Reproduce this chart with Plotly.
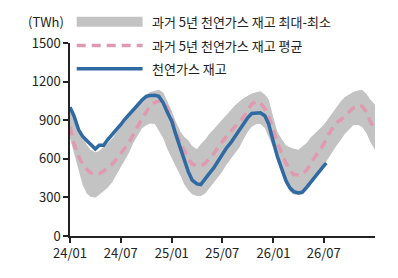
import pandas as pd
import plotly.graph_objects as go

# semi-monthly date grid (1st and 15th), Jan 2024 - Jan 2027
dates = [d.strftime("%Y-%m-%d") for d in pd.date_range("2024-01-01", "2027-01-01", freq="SMS")]

band_max = [980, 920, 830, 770, 710, 670, 650, 660, 690, 720, 760, 805,
            850, 890, 930, 975, 1020, 1060, 1095, 1120, 1130, 1137, 1115, 1050,
            970, 890, 810, 770, 745, 700, 675, 715, 750, 790, 830, 865,
            900, 940, 980, 1015, 1045, 1070, 1090, 1108, 1118, 1125, 1100, 1060,
            920, 810, 750, 705, 690, 678, 670, 695, 725, 765, 800, 835,
            865, 905, 955, 1000, 1050, 1080, 1100, 1120, 1130, 1137, 1105, 1060,
            1020]
band_min = [760, 650, 520, 400, 330, 305, 300, 320, 350, 375, 420, 475,
            530, 585, 650, 720, 780, 835, 860, 875, 870, 820, 760, 680,
            600, 540, 470, 400, 355, 325, 310, 310, 330, 370, 410, 450,
            500, 550, 600, 640, 690, 750, 810, 850, 870, 870, 840, 770,
            680, 580, 480, 400, 345, 322, 318, 322, 360, 400, 445, 495,
            550, 595, 650, 700, 750, 795, 830, 860, 862, 850, 800, 730,
            670]
avg5 = [850, 720, 620, 560, 520, 490, 478, 485, 505, 530, 560, 595,
        635, 680, 730, 790, 850, 910, 965, 1010, 1040, 1048, 1045, 1000,
        910, 805, 725, 655, 600, 560, 545, 545, 565, 600, 640, 690,
        730, 770, 815, 850, 880, 930, 985, 1025, 1046, 1035, 990, 925,
        830, 720, 640, 565, 510, 478, 476, 480, 515, 568, 620, 665,
        715, 780, 835, 880, 905, 935, 960, 995, 1015, 1010, 965, 890,
        820]
stock = [1000, 935, 825, 775, 743, 710, 676, 705, 705, 748, 787, 825,
         865, 905, 943, 982, 1020, 1055, 1085, 1092, 1093, 1085, 1035, 965,
         890, 790, 685, 593, 500, 435, 405, 400, 440, 485, 530, 580,
         630, 680, 725, 770, 820, 870, 920, 952, 958, 958, 935, 870,
         730, 620, 515, 430, 375, 345, 335, 340, 380, 420, 470, 500,
         545, 567]
stock_dates = dates[:61] + ["2026-07-10"]

tick_vals = ["2024-01-01", "2024-07-01", "2025-01-01", "2025-07-01", "2026-01-01", "2026-07-01"]
tick_text = ["24/01", "24/07", "25/01", "25/07", "26/01", "26/07"]
y_ticks = [0, 300, 600, 900, 1200, 1500]

names = ["과거 5년 천연가스 재고 최대-최소", "과거 5년 천연가스 재고 평균", "천연가스 재고"]
GRAY = "#c3c3c3"
PINK = "#e09ab0"
BLUE = "#2f6aa3"
FONT = "Noto Sans CJK KR"
TXT = "#222222"

fig = go.Figure()
fig.add_trace(go.Scatter(x=dates, y=band_min, mode="lines", line=dict(width=0, color=GRAY),
                         showlegend=False, hoverinfo="skip"))
fig.add_trace(go.Scatter(x=dates, y=band_max, mode="lines", line=dict(width=0, color=GRAY),
                         fill="tonexty", fillcolor=GRAY, name=names[0], showlegend=False))
fig.add_trace(go.Scatter(x=dates, y=avg5, mode="lines", line=dict(color=PINK, width=3.5, dash="9px,6px"),
                         name=names[1], showlegend=False))
fig.add_trace(go.Scatter(x=stock_dates, y=stock, mode="lines", line=dict(color=BLUE, width=3.5),
                         name=names[2], showlegend=False))

# manual legend (paper coordinates)
leg_y = [1.110, 0.987, 0.866]
x0, x1, xt = 0.022, 0.238, 0.262
fig.add_shape(type="line", xref="paper", yref="paper", x0=x0, x1=x1, y0=leg_y[0], y1=leg_y[0],
              line=dict(color=GRAY, width=10))
fig.add_shape(type="line", xref="paper", yref="paper", x0=x0, x1=x1, y0=leg_y[1], y1=leg_y[1],
              line=dict(color=PINK, width=3.5, dash="9px,6px"))
fig.add_shape(type="line", xref="paper", yref="paper", x0=x0, x1=x1, y0=leg_y[2], y1=leg_y[2],
              line=dict(color=BLUE, width=3.5))
for nm, yy in zip(names, leg_y):
    fig.add_annotation(text=nm, xref="paper", yref="paper", x=xt, y=yy, xanchor="left", yanchor="middle",
                       showarrow=False, font=dict(family=FONT, size=13, color=TXT))
fig.add_annotation(text="(TWh)", xref="paper", yref="paper", x=-0.012, y=1.110, xanchor="right",
                   yanchor="middle", showarrow=False, font=dict(family=FONT, size=13, color=TXT))

# page body has an 8px margin: shift plot area up/left to compensate
fig.update_layout(
    width=398, height=278,
    margin=dict(l=62, r=31, t=35, b=50),
    paper_bgcolor="white", plot_bgcolor="white",
    font=dict(family=FONT, size=13, color=TXT),
    showlegend=False,
)
fig.update_xaxes(range=["2024-01-01", "2027-01-01"], tickvals=tick_vals, ticktext=tick_text,
                 showgrid=False, zeroline=False, showline=True, linecolor="#222", linewidth=1.5,
                 ticks="outside", ticklen=5, tickcolor="#222", tickwidth=1.5, automargin=False,
                 tickfont=dict(family=FONT, size=13, color=TXT))
fig.update_yaxes(range=[0, 1500], tickvals=y_ticks, showgrid=False, zeroline=False,
                 showline=True, linecolor="#222", linewidth=1.5, automargin=False,
                 ticks="outside", ticklen=5, tickcolor="#222", tickwidth=1.5,
                 tickfont=dict(family=FONT, size=13, color=TXT))

fig.write_html("out.html")
